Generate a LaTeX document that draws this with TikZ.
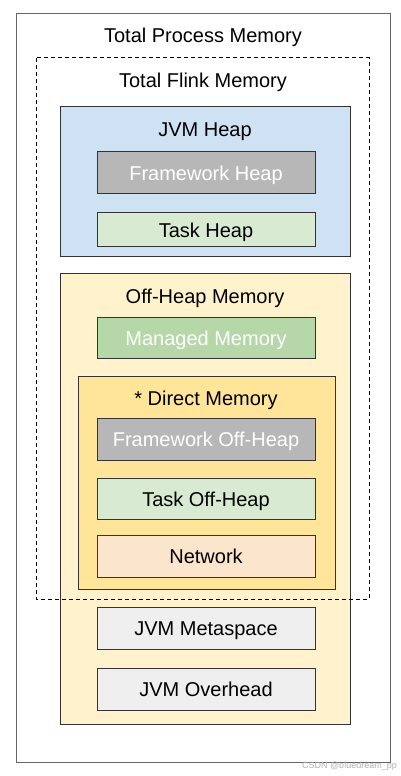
\documentclass[tikz,border=0pt]{standalone}
\usepackage{fontspec}
\setmainfont{Liberation Sans}
\definecolor{heapblue}{HTML}{CFE2F3}
\definecolor{fwgray}{HTML}{B7B7B7}
\definecolor{taskgreen}{HTML}{D9EAD3}
\definecolor{offyellow}{HTML}{FFF2CC}
\definecolor{mgreen}{HTML}{B6D7A8}
\definecolor{directyellow}{HTML}{FFE599}
\definecolor{netorange}{HTML}{FCE5CD}
\definecolor{jvmgray}{HTML}{EFEFEF}
\definecolor{edge}{HTML}{333333}
\begin{document}
\begin{tikzpicture}[x=1pt,y=-1pt,
  box/.style={draw=edge,line width=1pt},
  lbl/.style={font=\fontsize{20}{24}\selectfont,text=black,inner sep=0pt,anchor=base},
  wlbl/.style={lbl,text=white}]
\useasboundingbox[fill=white] (0,0) rectangle (401,776);
% outer
\draw[draw=black!60,line width=1pt] (16,14) rectangle (390,762);
\node[lbl] (tpm) at (203,43) {Total Process Memory};
% JVM heap
\draw[box,fill=heapblue] (60,106) rectangle (350,256);
\node[lbl] (jh) at (205,136) {JVM Heap};
\draw[box,fill=fwgray] (97,151) rectangle (315,193);
\node[wlbl] (fh) at (206,180) {Framework Heap};
\draw[box,fill=taskgreen] (97,212) rectangle (315,246);
\node[lbl] (th) at (206,237) {Task Heap};
% off heap
\draw[box,fill=offyellow] (60,273) rectangle (350,724);
\node[lbl] (ohm) at (205,303) {Off-Heap Memory};
\draw[box,fill=mgreen] (97,317) rectangle (315,358);
\node[wlbl] (mm) at (206,345.5) {Managed Memory};
\draw[box,fill=directyellow] (78,376) rectangle (335,589);
\node[lbl] (dm) at (206,405.5) {* Direct Memory};
\draw[box,fill=fwgray] (97,418) rectangle (315,460);
\node[wlbl] (foh) at (206,446.5) {Framework Off-Heap};
\draw[box,fill=taskgreen] (97,478) rectangle (315,519);
\node[lbl] (toh) at (206,506) {Task Off-Heap};
\draw[box,fill=netorange] (97,535) rectangle (315,577);
\node[lbl] (net) at (206,563.5) {Network};
\draw[box,fill=jvmgray] (97,607) rectangle (315,649);
\node[lbl] (meta) at (206,635.5) {JVM Metaspace};
\draw[box,fill=jvmgray] (97,668) rectangle (315,710);
\node[lbl] (ovh) at (206,696.5) {JVM Overhead};
% dashed total flink memory
\draw[black,line width=1pt,dash pattern=on 4pt off 3pt] (36,58) rectangle (369,599);
\node[lbl] (tfm) at (203,88) {Total Flink Memory};
% watermark
\node[font=\fontsize{9}{11}\selectfont,text=black!30,inner sep=0pt,anchor=east] (wm) at (397,766) {CSDN @bluedream\_pp};
\end{tikzpicture}
\end{document}
